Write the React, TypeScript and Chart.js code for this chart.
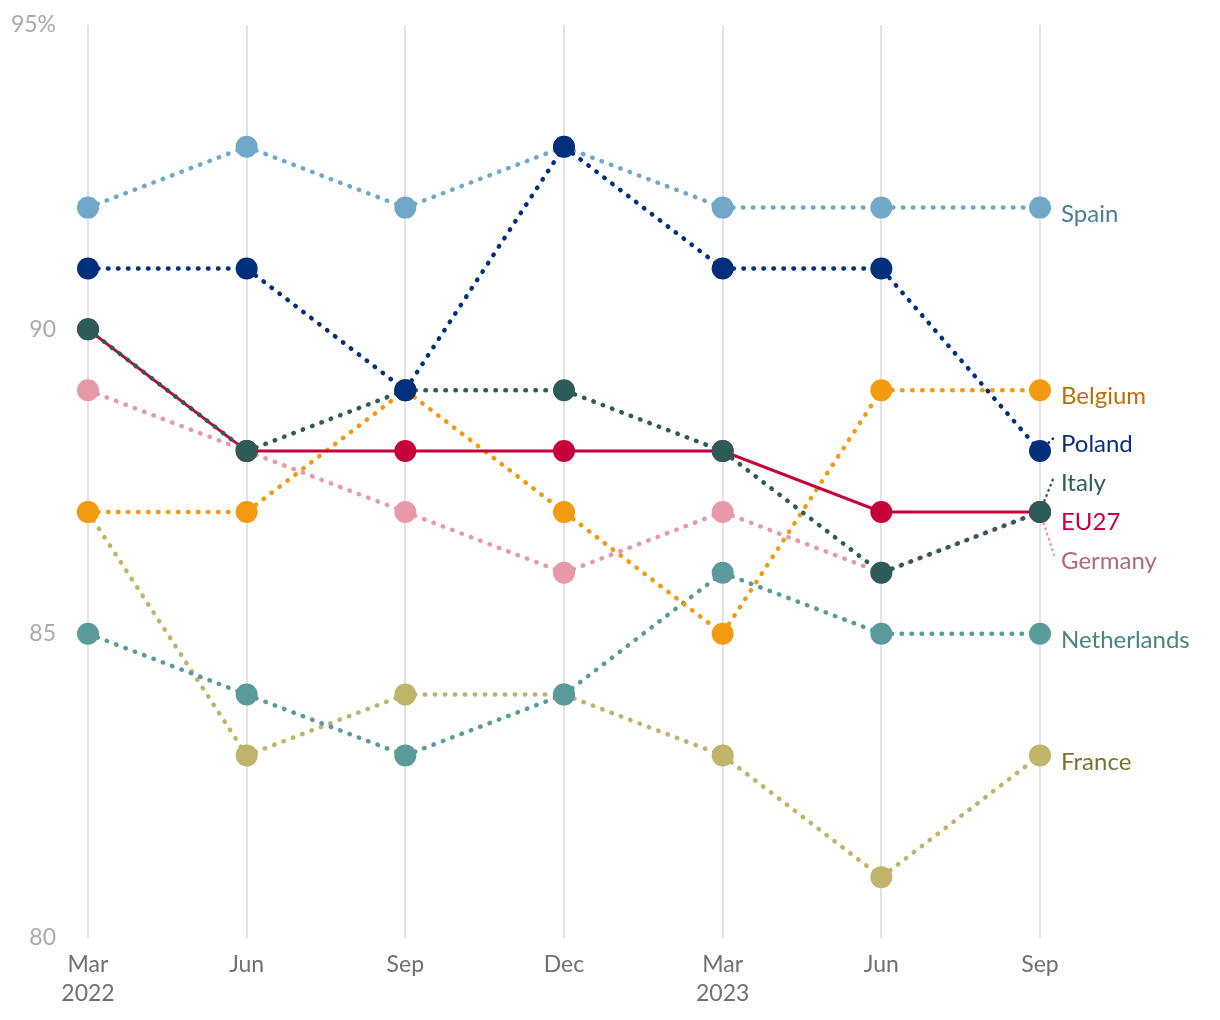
import React, { useEffect, useRef } from "react";
import { Chart, registerables } from "chart.js";

Chart.register(...registerables);

const categories: (string | string[])[] = [["Mar", "2022"], "Jun", "Sep", "Dec", ["Mar", "2023"], "Jun", "Sep"];
const yTicks = [80, 85, 90, 95];

const spain = [92, 93, 92, 93, 92, 92, 92];
const poland = [91, 91, 89, 93, 91, 91, 88];
const italy = [90, 88, 89, 89, 88, 86, 87];
const eu27 = [90, 88, 88, 88, 88, 87, 87];
const germany = [89, 88, 87, 86, 87, 86, 87];
const belgium = [87, 87, 89, 87, 85, 89, 89];
const netherlands = [85, 84, 83, 84, 86, 85, 85];
const france = [87, 83, 84, 84, 83, 81, 83];

const labelOrder = ["Spain", "Belgium", "Poland", "Italy", "EU27", "Germany", "Netherlands", "France"];

type Series = { name: string; data: number[]; color: string; labelColor: string; solid?: boolean };

// draw order: first = on top
const series: Series[] = [
  { name: "Poland", data: poland, color: "#012f7c", labelColor: "#0b2f7e" },
  { name: "Italy", data: italy, color: "#2d5b57", labelColor: "#2e5e5a" },
  { name: "EU27", data: eu27, color: "#c5003b", labelColor: "#c8003c", solid: true },
  { name: "Germany", data: germany, color: "#e899a8", labelColor: "#b5677c" },
  { name: "Belgium", data: belgium, color: "#f39a10", labelColor: "#c06e00" },
  { name: "Spain", data: spain, color: "#72a8c7", labelColor: "#4a7f9c" },
  { name: "Netherlands", data: netherlands, color: "#5b9a9a", labelColor: "#4a8585" },
  { name: "France", data: france, color: "#c0b46a", labelColor: "#7c7230" },
];

const endLabels = {
  id: "endLabels",
  afterDatasetsDraw(chart: any) {
    const ctx = chart.ctx;
    const area = chart.chartArea;
    const items: any[] = [];
    chart.data.datasets.forEach((ds: any, i: number) => {
      const meta = chart.getDatasetMeta(i);
      const pt = meta.data[meta.data.length - 1];
      items.push({
        name: ds.label,
        color: ds.labelColor,
        line: ds.borderColor,
        x: pt.x,
        y: pt.y,
        desired: pt.y + 6.5,
        rank: labelOrder.indexOf(ds.label),
      });
    });
    items.sort((a, b) => a.desired - b.desired || a.rank - b.rank);
    const sp = 39;
    let groups = items.map((it) => ({ items: [it], center: it.desired }));
    let merged = true;
    while (merged) {
      merged = false;
      for (let i = 0; i < groups.length - 1; i++) {
        const a = groups[i];
        const b = groups[i + 1];
        const aBottom = a.center + ((a.items.length - 1) / 2) * sp;
        const bTop = b.center - ((b.items.length - 1) / 2) * sp;
        if (bTop - aBottom < sp) {
          const all = a.items.concat(b.items);
          const center = all.reduce((s: number, it: any) => s + it.desired, 0) / all.length;
          groups.splice(i, 2, { items: all, center });
          merged = true;
          break;
        }
      }
    }
    const lx = area.right + 21;
    ctx.save();
    groups.forEach((g) => {
      g.items.forEach((it: any, k: number) => {
        it.ly = g.center + (k - (g.items.length - 1) / 2) * sp;
      });
    });
    items.forEach((it) => {
      if (Math.abs(it.ly - it.desired) > 8) {
        const ex = lx - 7;
        const ey = it.ly - 7;
        const dx = ex - it.x;
        const dy = ey - it.y;
        const len = Math.hypot(dx, dy);
        const sx = it.x + (dx / len) * 12;
        const sy = it.y + (dy / len) * 12;
        ctx.beginPath();
        ctx.setLineDash([0.5, 5]);
        ctx.lineCap = "round";
        ctx.lineWidth = 2.5;
        ctx.strokeStyle = it.line;
        ctx.moveTo(sx, sy);
        ctx.lineTo(ex, ey);
        ctx.stroke();
      }
    });
    ctx.setLineDash([]);
    ctx.font = "24px Lato";
    ctx.textAlign = "left";
    ctx.textBaseline = "middle";
    items.forEach((it) => {
      ctx.fillStyle = it.color;
      ctx.fillText(it.name, lx, it.ly);
    });
    ctx.restore();
  },
};

export default function App() {
  const ref = useRef<HTMLCanvasElement>(null);
  useEffect(() => {
    if (!ref.current) return;
    Chart.defaults.font.family = "Lato";
    const chart = new Chart(ref.current, {
      type: "line",
      data: {
        labels: categories as any,
        datasets: series.map((s) => ({
          label: s.name,
          data: s.data,
          borderColor: s.color,
          backgroundColor: s.color,
          labelColor: s.labelColor,
          borderWidth: s.solid ? 3 : 4.5,
          borderDash: s.solid ? [] : [0.5, 9.5],
          borderCapStyle: "round",
          tension: 0,
          pointRadius: 11,
          pointHoverRadius: 11,
          pointBorderWidth: 0,
          pointBackgroundColor: s.color,
          fill: false,
        })) as any,
      },
      options: {
        animation: false,
        responsive: false,
        layout: { padding: { top: 17, right: 172, bottom: 0, left: 0 } },
        plugins: {
          legend: { display: false },
          tooltip: { enabled: false },
        },
        scales: {
          x: {
            offset: false,
            afterFit: (scale: any) => {
              scale.height = 74;
            },
            grid: { display: true, color: "#e3e3e3", lineWidth: 2, drawTicks: false },
            border: { display: false },
            ticks: { color: "#707070", font: { size: 23, lineHeight: 1.25 }, padding: 12, maxRotation: 0 },
          },
          y: {
            min: 80,
            max: 95,
            afterFit: (scale: any) => {
              scale.width = 80;
              scale.paddingTop = 0;
              scale.paddingBottom = 0;
            },
            afterBuildTicks: (scale: any) => {
              scale.ticks = yTicks.map((v) => ({ value: v }));
            },
            grid: { display: false, drawTicks: false },
            border: { display: false },
            ticks: {
              color: "#aaaaaa",
              font: { size: 23 },
              padding: 32,
              callback: (v: any) => (v === 95 ? "95%" : String(v)),
            },
          },
        },
      } as any,
      plugins: [endLabels],
    });
    return () => chart.destroy();
  }, []);
  return <canvas ref={ref} width={1204} height={1004} style={{ display: "block" }} />;
}
